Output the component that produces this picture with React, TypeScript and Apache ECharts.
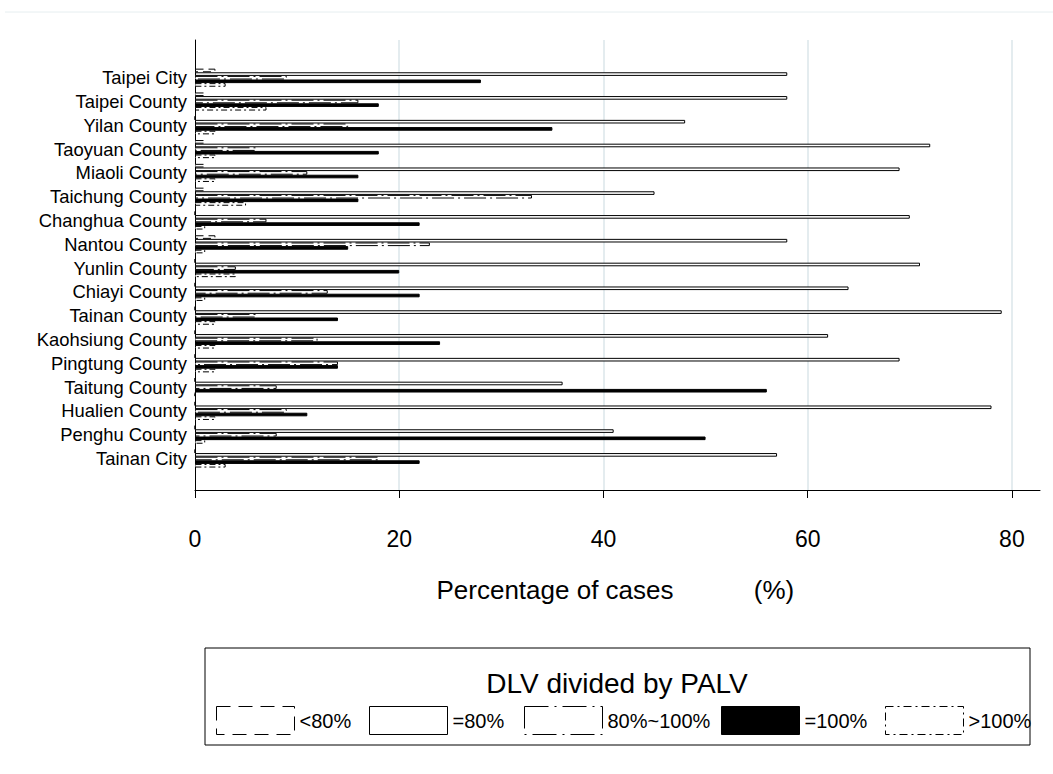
import React, { useEffect, useRef } from "react";
import * as echarts from "echarts";

const counties = [
  "Taipei City",
  "Taipei County",
  "Yilan County",
  "Taoyuan County",
  "Miaoli County",
  "Taichung County",
  "Changhua County",
  "Nantou County",
  "Yunlin County",
  "Chiayi County",
  "Tainan County",
  "Kaohsiung County",
  "Pingtung County",
  "Taitung County",
  "Hualien County",
  "Penghu County",
  "Tainan City",
];

const below80 = [2, 1, 0, 1, 1, 1, 0, 2, 0, 0, 0, 0, 0, 0, 0, 0, 0];
const equal80 = [58, 58, 48, 72, 69, 45, 70, 58, 71, 64, 79, 62, 69, 36, 78, 41, 57];
const between80and100 = [9, 16, 15, 6, 11, 33, 7, 23, 4, 13, 6, 12, 14, 8, 9, 8, 18];
const equal100 = [28, 18, 35, 18, 16, 16, 22, 15, 20, 22, 14, 24, 14, 56, 11, 50, 22];
const above100 = [3, 7, 2, 2, 2, 5, 1, 1, 4, 1, 2, 2, 2, 0, 2, 1, 3];

const seriesNames = ["<80%", "=80%", "80%~100%", "=100%", ">100%"];
const legendTitle = "DLV divided by PALV";
const axisTitle = "Percentage of cases";
const axisUnit = "(%)";

const FONT = "'Liberation Sans', Arial, sans-serif";

export default function App() {
  const ref = useRef<HTMLDivElement>(null);

  useEffect(() => {
    const chart = echarts.init(ref.current!, null, { renderer: "svg" });
    const values = [below80, equal80, between80and100, equal100, above100];
    const fills = ["#fff", "#fff", "#fff", "#000", "#fff"];
    const dashes: any[] = [[8, 5], "solid", [22, 4, 2, 4], "solid", [6, 3, 2, 3]];
    const legendDashes: any[] = [[14, 8], "solid", [24, 6, 2, 6], "solid", [8, 4, 2, 4]];
    const legendLefts = [216, 369, 524, 721, 885];

    const series = seriesNames.map((name, i) => ({
      name,
      type: "bar",
      xAxisIndex: 0,
      yAxisIndex: 0,
      data: values[i],
      barGap: "0%",
      barCategoryGap: "24%",
      itemStyle: {
        color: fills[i],
        borderColor: "#000",
        borderWidth: 1,
        borderType: dashes[i],
      },
      emphasis: { disabled: true },
    }));

    const legends = seriesNames.map((name, i) => ({
      data: [
        {
          name,
          itemStyle: {
            color: fills[i],
            borderColor: "#000",
            borderWidth: 1,
            borderType: legendDashes[i],
          },
        },
      ],
      left: legendLefts[i],
      top: 706,
      padding: 0,
      itemWidth: 78,
      itemHeight: 28,
      icon: "rect",
      selectedMode: false,
      textStyle: { color: "#000", fontSize: 20, fontFamily: FONT },
    }));

    chart.setOption({
      animation: false,
      backgroundColor: "#fff",
      textStyle: { fontFamily: FONT },
      grid: [
        { left: 195, right: 13, top: 65.8, height: 404.6 },
        { left: 195, right: 13, top: 40, height: 450 },
      ],
      xAxis: [
        { type: "value", gridIndex: 0, min: 0, max: 82.75, show: false },
        {
          type: "value",
          gridIndex: 1,
          min: 0,
          max: 82.75,
          interval: 20,
          axisLine: { show: true, lineStyle: { color: "#000", width: 1 } },
          axisTick: { show: true, length: 8, lineStyle: { color: "#000" } },
          axisLabel: {
            color: "#000",
            fontSize: 23,
            fontFamily: FONT,
            margin: 37,
            showMaxLabel: false,
          },
          splitLine: {
            show: true,
            showMinLine: false,
            showMaxLine: false,
            lineStyle: { color: "#e4ecef", width: 2 },
          },
        },
      ],
      yAxis: [
        {
          type: "category",
          gridIndex: 0,
          data: counties,
          inverse: true,
          axisLine: { show: false },
          axisTick: { show: false },
          axisLabel: { color: "#000", fontSize: 18.4, fontFamily: FONT, margin: 8 },
        },
        {
          type: "value",
          gridIndex: 1,
          min: 0,
          max: 1,
          axisLine: { show: true, lineStyle: { color: "#000", width: 1 } },
          axisTick: { show: false },
          axisLabel: { show: false },
          splitLine: { show: false },
        },
      ],
      legend: legends,
      graphic: [
        {
          type: "line",
          shape: { x1: 5, y1: 12, x2: 1053, y2: 12 },
          style: { stroke: "#e6eef0", lineWidth: 1 },
        },
        {
          type: "rect",
          shape: { x: 205, y: 648, width: 825, height: 97 },
          style: { fill: "none", stroke: "#000", lineWidth: 1 },
        },
        {
          type: "text",
          x: 617,
          y: 683,
          style: {
            text: legendTitle,
            fill: "#000",
            font: `28px ${FONT}`,
            textAlign: "center",
            textVerticalAlign: "middle",
          },
        },
        {
          type: "text",
          x: 555,
          y: 590,
          style: {
            text: axisTitle,
            fill: "#000",
            font: `26px ${FONT}`,
            textAlign: "center",
            textVerticalAlign: "middle",
          },
        },
        {
          type: "text",
          x: 774,
          y: 590,
          style: {
            text: axisUnit,
            fill: "#000",
            font: `26px ${FONT}`,
            textAlign: "center",
            textVerticalAlign: "middle",
          },
        },
      ],
      series,
    });

    return () => chart.dispose();
  }, []);

  return (
    <div
      ref={ref}
      style={{ position: "fixed", left: 0, top: 0, width: 1053, height: 774 }}
    />
  );
}
